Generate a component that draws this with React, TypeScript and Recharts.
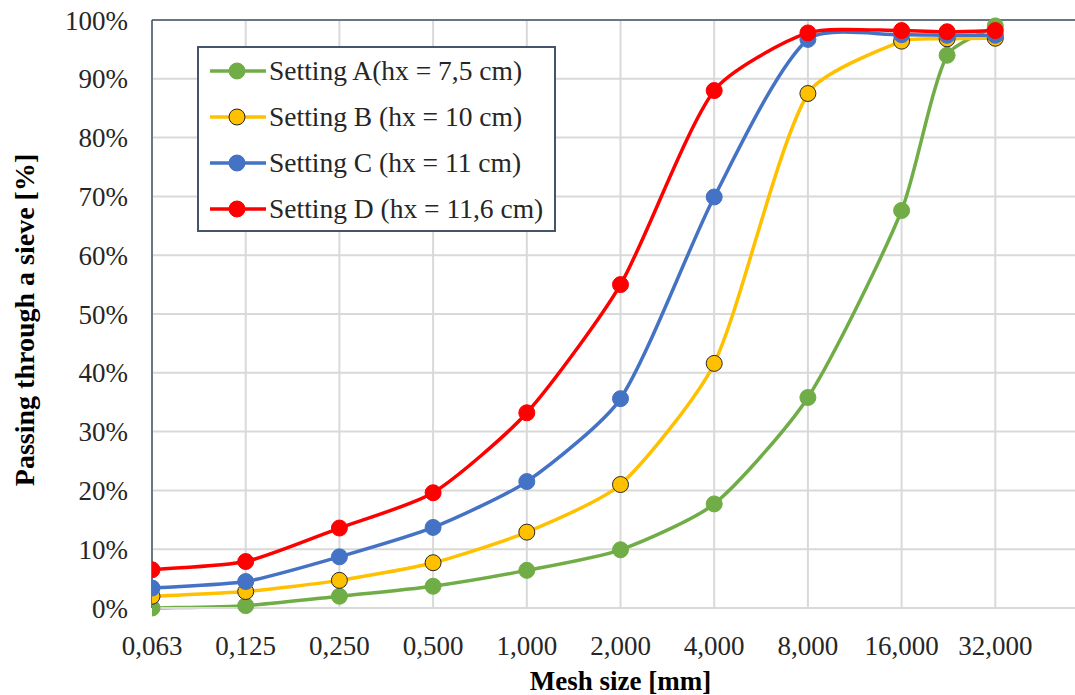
import React from 'react';
import {
  LineChart,
  Line,
  XAxis,
  YAxis,
  CartesianGrid,
  ReferenceLine,
} from 'recharts';

// mesh sizes [mm]
const meshSizes = [0.0625, 0.125, 0.25, 0.5, 1, 2, 4, 8, 16, 22.4, 32];
const xTicks = [0.0625, 0.125, 0.25, 0.5, 1, 2, 4, 8, 16, 32];
const yTicks = [0, 10, 20, 30, 40, 50, 60, 70, 80, 90, 100];

// passing [%]
const settingA = [0, 0.4, 2.0, 3.7, 6.4, 9.9, 17.7, 35.8, 67.6, 94.0, 99.0];
const settingB = [2.0, 2.8, 4.7, 7.7, 12.9, 21.0, 41.6, 87.5, 96.4, 96.8, 96.9];
const settingC = [3.4, 4.5, 8.7, 13.7, 21.5, 35.6, 69.9, 96.7, 97.5, 97.4, 97.4];
const settingD = [6.5, 7.9, 13.6, 19.6, 33.2, 55.0, 88.0, 97.8, 98.2, 98.0, 98.2];

const data = meshSizes.map((size, i) => ({
  size,
  a: settingA[i],
  b: settingB[i],
  c: settingC[i],
  d: settingD[i],
}));

const series = [
  { key: 'a', name: 'Setting A(hx = 7,5 cm)', color: '#70AD47', outline: '#70AD47' },
  { key: 'b', name: 'Setting B (hx = 10 cm)', color: '#FFC000', outline: '#262626' },
  { key: 'c', name: 'Setting C (hx = 11 cm)', color: '#4472C4', outline: '#4472C4' },
  { key: 'd', name: 'Setting D (hx = 11,6 cm)', color: '#FF0000', outline: '#FF0000' },
];

const FONT = '"Liberation Serif", "Times New Roman", serif';
const BORDER = '#44546A';

const fmtMesh = (v: number) => v.toFixed(3).replace('.', ',');

// smoothed line, roughly like Excel's: tangent along the neighbours,
// handle length tied to the segment itself so it does not overshoot much
const excelSmooth = (context: any) => {
  let pts: number[][] = [];
  const tangent = (a: number[], b: number[]) => {
    const dx = b[0] - a[0];
    const dy = b[1] - a[1];
    const len = Math.hypot(dx, dy) || 1;
    return [dx / len, dy / len];
  };
  return {
    areaStart() {},
    areaEnd() {},
    lineStart() {
      pts = [];
    },
    lineEnd() {
      if (!pts.length) return;
      context.moveTo(pts[0][0], pts[0][1]);
      for (let i = 0; i < pts.length - 1; i++) {
        const p0 = pts[i - 1] || pts[i];
        const p1 = pts[i];
        const p2 = pts[i + 1];
        const p3 = pts[i + 2] || p2;
        const seg = Math.hypot(p2[0] - p1[0], p2[1] - p1[1]) * 0.22;
        const t1 = tangent(p0, p2);
        const t2 = tangent(p1, p3);
        context.bezierCurveTo(
          p1[0] + t1[0] * seg,
          p1[1] + t1[1] * seg,
          p2[0] - t2[0] * seg,
          p2[1] - t2[1] * seg,
          p2[0],
          p2[1],
        );
      }
    },
    point(x: number, y: number) {
      pts.push([+x, +y]);
    },
  };
};

const ChartLegend = () => (
  <div
    style={{
      position: 'absolute',
      left: 197,
      top: 46,
      boxSizing: 'border-box',
      width: 359,
      height: 186,
      border: `2px solid ${BORDER}`,
      background: '#fff',
      paddingLeft: 11,
      fontFamily: FONT,
      fontSize: 27.5,
      color: '#262626',
    }}
  >
    {series.map((s) => (
      <div key={s.key} style={{ display: 'flex', alignItems: 'center', height: 46 }}>
        <svg width={56} height={20} style={{ flex: 'none' }}>
          <line x1={0} y1={10} x2={56} y2={10} stroke={s.color} strokeWidth={3.5} />
          <circle cx={27} cy={10} r={8} fill={s.color} stroke={s.outline} strokeWidth={1} />
        </svg>
        <span style={{ marginLeft: 3, whiteSpace: 'nowrap' }}>{s.name}</span>
      </div>
    ))}
  </div>
);

const YTitle = (props: any) => {
  const { viewBox } = props;
  const cx = viewBox.x + 24;
  const cy = viewBox.y + viewBox.height / 2 + 6;
  return (
    <text
      x={cx}
      y={cy}
      transform={`rotate(-90 ${cx} ${cy})`}
      textAnchor="middle"
      dominantBaseline="central"
      fontFamily={FONT}
      fontWeight="bold"
      fontSize={28}
      fill="#000"
    >
      Passing through a sieve [%]
    </text>
  );
};

export default function App() {
  return (
    <div
      style={{
        position: 'absolute',
        left: 0,
        top: 0,
        width: 1075,
        height: 695,
        overflow: 'hidden',
        background: '#fff',
      }}
    >
      <LineChart
        width={1100}
        height={695}
        data={data}
        margin={{ top: 20, right: 11, bottom: 0, left: 0 }}
      >
        <CartesianGrid stroke="#D9D9D9" strokeWidth={2} />
        <XAxis
          dataKey="size"
          type="number"
          scale="log"
          domain={[0.0625, 64]}
          ticks={xTicks}
          tickFormatter={fmtMesh}
          allowDataOverflow
          height={87}
          tickLine={false}
          tickSize={6}
          tickMargin={22}
          axisLine={{ stroke: '#D9D9D9', strokeWidth: 2 }}
          tick={{ fontFamily: FONT, fontSize: 27, fill: '#262626' }}
          label={{
            value: 'Mesh size [mm]',
            position: 'insideBottom',
            offset: 5,
            style: { fontFamily: FONT, fontWeight: 'bold', fontSize: 27, fill: '#000' },
          }}
        />
        <YAxis
          type="number"
          domain={[0, 100]}
          ticks={yTicks}
          tickFormatter={(v: number) => `${v}%`}
          width={152}
          tickLine={false}
          tickSize={6}
          tickMargin={18}
          axisLine={{ stroke: BORDER, strokeWidth: 1.5 }}
          tick={{ fontFamily: FONT, fontSize: 27, fill: '#262626' }}
          label={<YTitle />}
        />
        <ReferenceLine y={100} stroke={BORDER} strokeWidth={1.5} />
        {series.map((s) => (
          <Line
            key={s.key}
            type={excelSmooth as any}
            dataKey={s.key}
            name={s.name}
            stroke={s.color}
            strokeWidth={3.5}
            dot={{ r: 8, fill: s.color, stroke: s.outline, strokeWidth: 1 }}
            activeDot={false}
            isAnimationActive={false}
          />
        ))}
      </LineChart>
      <ChartLegend />
    </div>
  );
}
